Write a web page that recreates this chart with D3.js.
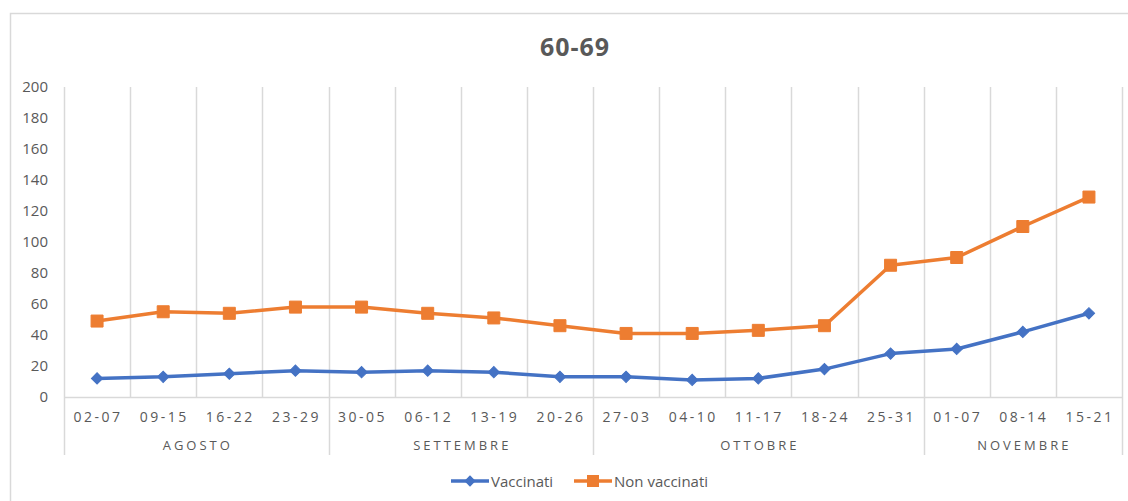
<!DOCTYPE html>
<meta charset="utf-8">
<script src="https://d3js.org/d3.v7.min.js"></script>
<style>
body { margin: 0; background: #fff; }
text { font-family: 'Open Sans', 'Liberation Sans', sans-serif; fill: #595959; }
</style>
<div id="chart"></div>
<script>
// week labels and months
var weeks = ["02-07","09-15","16-22","23-29","30-05","06-12","13-19","20-26",
             "27-03","04-10","11-17","18-24","25-31","01-07","08-14","15-21"];
var months = [["AGOSTO", 0, 4], ["SETTEMBRE", 4, 8], ["OTTOBRE", 8, 13], ["NOVEMBRE", 13, 16]];
var vaccinati = [12, 13, 15, 17, 16, 17, 16, 13, 13, 11, 12, 18, 28, 31, 42, 54];
var nonVaccinati = [49, 55, 54, 58, 58, 54, 51, 46, 41, 41, 43, 46, 85, 90, 110, 129];
var yTicks = [0, 20, 40, 60, 80, 100, 120, 140, 160, 180, 200];

var W = 1128, H = 501;
var plotLeft = 64, plotRight = 1122, plotTop = 87, plotBottom = 397;

var svg = d3.select("#chart").append("svg").attr("width", W).attr("height", H);

// outer chart border
svg.append("rect").attr("x", 10.5).attr("y", 13.5).attr("width", 1130).attr("height", 500)
  .attr("fill", "none").attr("stroke", "#d9d9d9").attr("stroke-width", 1.5);

var x = d3.scaleBand().domain(d3.range(weeks.length)).range([plotLeft, plotRight]);
var y = d3.scaleLinear().domain([0, 200]).range([plotBottom, plotTop]);

// title
svg.append("text").attr("x", 575).attr("y", 56).attr("text-anchor", "middle")
  .style("font-size", "25px").style("font-weight", "bold").style("letter-spacing", "1px")
  .text("60-69");

// vertical gridlines at category boundaries
var bounds = d3.range(weeks.length + 1);
var monthEdges = [0, 4, 8, 13, 16];
svg.append("g").selectAll("line").data(bounds).enter().append("line")
  .attr("x1", function(i) { return Math.round(plotLeft + i * x.step()) + 0.5; })
  .attr("x2", function(i) { return Math.round(plotLeft + i * x.step()) + 0.5; })
  .attr("y1", plotTop)
  .attr("y2", function(i) { return monthEdges.indexOf(i) >= 0 ? 455 : plotBottom; })
  .attr("stroke", "#d9d9d9").attr("stroke-width", 1.5);

// zero axis line
svg.append("line").attr("x1", plotLeft).attr("x2", plotRight)
  .attr("y1", y(0) + 0.5).attr("y2", y(0) + 0.5)
  .attr("stroke", "#d9d9d9").attr("stroke-width", 1.5);

// y tick labels
svg.append("g").selectAll("text").data(yTicks).enter().append("text")
  .attr("x", 48).attr("y", function(d) { return y(d) + 5; })
  .attr("text-anchor", "end").style("font-size", "15px")
  .text(function(d) { return d; });

// week labels
svg.append("g").selectAll("text").data(weeks).enter().append("text")
  .attr("x", function(d, i) { return x(i) + x.bandwidth() / 2 + 1; })
  .attr("y", 422).attr("text-anchor", "middle")
  .style("font-size", "14px").style("letter-spacing", "2.5px")
  .text(function(d) { return d; });

// month labels
svg.append("g").selectAll("text").data(months).enter().append("text")
  .attr("x", function(d) { return plotLeft + (d[1] + d[2]) / 2 * x.step() + 1.5; })
  .attr("y", 450).attr("text-anchor", "middle")
  .style("font-size", "13px").style("letter-spacing", "3px")
  .text(function(d) { return d[0]; });

var line = d3.line()
  .x(function(d, i) { return x(i) + x.bandwidth() / 2; })
  .y(function(d) { return y(d); });

var series = [
  { name: "Vaccinati", values: vaccinati, color: "#4472c4", size: 64, rot: 45 },
  { name: "Non vaccinati", values: nonVaccinati, color: "#ed7d31", size: 144, rot: 0 }
];

series.forEach(function(s) {
  svg.append("path").datum(s.values).attr("d", line)
    .attr("fill", "none").attr("stroke", s.color).attr("stroke-width", 3.5)
    .attr("stroke-linejoin", "round");
  svg.append("g").selectAll("path").data(s.values).enter().append("path")
    .attr("d", d3.symbol().type(d3.symbolSquare).size(s.size))
    .attr("transform", function(d, i) {
      return "translate(" + (x(i) + x.bandwidth() / 2) + "," + y(d) + ") rotate(" + s.rot + ")";
    })
    .attr("fill", s.color).attr("stroke", s.color).attr("stroke-width", 1);
});

// legend
var legendX = [451, 574];
series.forEach(function(s, k) {
  var g = svg.append("g").attr("transform", "translate(" + legendX[k] + ",481)");
  g.append("line").attr("x1", 0).attr("x2", 38).attr("y1", 0).attr("y2", 0)
    .attr("stroke", s.color).attr("stroke-width", 3.5);
  g.append("path").attr("d", d3.symbol().type(d3.symbolSquare).size(s.size))
    .attr("transform", "translate(19,0) rotate(" + s.rot + ")").attr("fill", s.color);
  g.append("text").attr("x", 40).attr("y", 6).style("font-size", "15px").text(s.name);
});
</script>
